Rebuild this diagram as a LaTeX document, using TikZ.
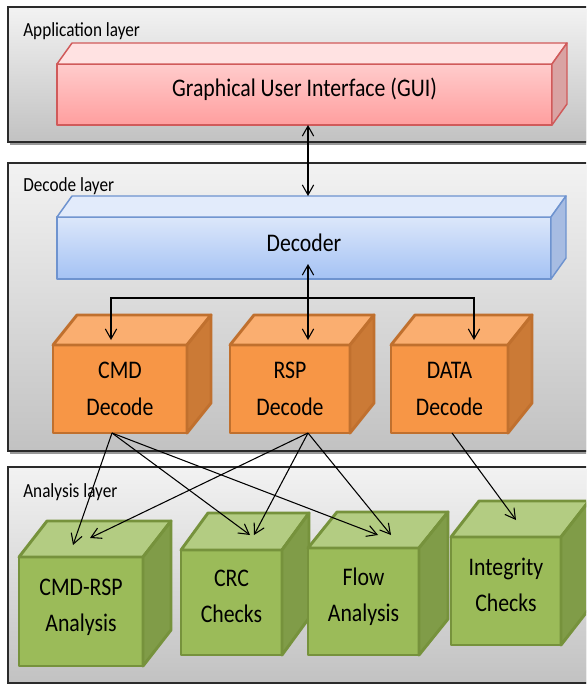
\documentclass[tikz,border=0pt]{standalone}
\usepackage{fontspec}
\setmainfont{Carlito}[FakeStretch=0.86]
\usetikzlibrary{arrows.meta}

\definecolor{layerline}{HTML}{2B2B2B}
\definecolor{guiline}{HTML}{D05A5A}
\definecolor{guitop}{HTML}{FFE2E2}
\definecolor{guiside}{HTML}{D9A3A3}
\definecolor{decline}{HTML}{6E93CF}
\definecolor{decfronttop}{HTML}{DCE7FA}
\definecolor{decfrontbot}{HTML}{A4C2F4}
\definecolor{dectop}{HTML}{E2EBFB}
\definecolor{decside}{HTML}{A7BCE2}
\definecolor{orline}{HTML}{C0702E}
\definecolor{orfront}{HTML}{F79646}
\definecolor{ortop}{HTML}{FAAE70}
\definecolor{orside}{HTML}{CB7A36}
\definecolor{grline}{HTML}{76923C}
\definecolor{grfront}{HTML}{9BBB59}
\definecolor{grtop}{HTML}{B3CC82}
\definecolor{grside}{HTML}{809C48}

\newcommand\pxu{0.75pt}
\newcommand\cubefaces[5]{%
  \path[#4] (#1.north west) -- ([shift={(#2,#3)}]#1.north west) -- ([shift={(#2,#3)}]#1.north east) -- (#1.north east) -- cycle;
  \path[#5] (#1.north east) -- ([shift={(#2,#3)}]#1.north east) -- ([shift={(#2,#3)}]#1.south east) -- (#1.south east) -- cycle;
}

\begin{document}
\begin{tikzpicture}
	[x=0.75pt, y=-0.75pt,
	layer/.style = {draw=layerline, line width=1.2pt, top color=black!5, bottom color=black!24},
	layershadow/.style = {fill=black!40},
	layername/.style = {anchor=west, inner sep=0pt, font=\fontsize{15}{17}\selectfont},
	box/.style = {outer sep=0pt, inner sep=0pt, align=center, line join=round, font=\fontsize{19}{28}\selectfont},
	gui/.style = {box, draw=guiline, line width=1.1pt, top color=red!20, bottom color=red!38, text depth=10.5pt},
	guitopface/.style = {fill=guitop, draw=guiline, line width=1.1pt, line join=round},
	guisideface/.style = {fill=guiside, draw=guiline, line width=1.1pt, line join=round},
	dec/.style = {box, draw=decline, line width=1.1pt, top color=decfronttop, bottom color=decfrontbot, text depth=7.5pt},
	dectopface/.style = {fill=dectop, draw=decline, line width=1.1pt, line join=round},
	decsideface/.style = {fill=decside, draw=decline, line width=1.1pt, line join=round},
	orange/.style = {box, draw=orline, fill=orfront, line width=2.2pt},
	ortopface/.style = {fill=ortop, draw=orline, line width=2.2pt, line join=round},
	orsideface/.style = {fill=orside, draw=orline, line width=2.2pt, line join=round},
	green/.style = {box, draw=grline, fill=grfront, line width=2.2pt, font=\fontsize{19}{27}\selectfont, text depth=10pt},
	grtopface/.style = {fill=grtop, draw=grline, line width=2.2pt, line join=round},
	grsideface/.style = {fill=grside, draw=grline, line width=2.2pt, line join=round},
	link/.style = {line width=0.8pt, >={Straight Barb[length=7.5pt,width=8.5pt]}}]
	\useasboundingbox (0,0) rectangle (586,684);
	\clip (0,0) rectangle (586,684);

	\fill[layershadow] (10,9) rectangle (602,145);
	\fill[layershadow] (10,165) rectangle (602,454);
	\fill[layershadow] (10,469) rectangle (602,686);
	\draw[layer] (8,7) rectangle (600,142);
	\draw[layer] (8,163) rectangle (600,451);
	\draw[layer] (8,467) rectangle (600,683);
	\node[layername] (applabel) at (23,31) {Application layer};
	\node[layername] (declabel) at (23,186) {Decode layer};
	\node[layername] (analabel) at (23,492) {Analysis layer};

	\node[gui, minimum width={495*\pxu}, minimum height={61*\pxu}] (gui) at (304.5,94.5) {Graphical User Interface (GUI)};
	\cubefaces{gui}{15}{-21}{guitopface}{guisideface}
	\node[dec, minimum width={494*\pxu}, minimum height={62*\pxu}] (dec) at (304,248) {Decoder};
	\cubefaces{dec}{15}{-21}{dectopface}{decsideface}

	\node[orange, minimum width={134*\pxu}, minimum height={88*\pxu}] (cmd) at (120,389) {CMD\\Decode};
	\cubefaces{cmd}{24}{-30}{ortopface}{orsideface}
	\node[orange, minimum width={120*\pxu}, minimum height={88*\pxu}] (rsp) at (290,389) {RSP\\Decode};
	\cubefaces{rsp}{24}{-30}{ortopface}{orsideface}
	\node[orange, minimum width={117*\pxu}, minimum height={88*\pxu}] (data) at (449.5,389) {DATA\\Decode};
	\cubefaces{data}{24}{-30}{ortopface}{orsideface}

	\node[green, minimum width={124*\pxu}, minimum height={109*\pxu}] (cmdrsp) at (81,611.5) {CMD-RSP\\Analysis};
	\cubefaces{cmdrsp}{28}{-36}{grtopface}{grsideface}
	\node[green, minimum width={101*\pxu}, minimum height={105*\pxu}] (crc) at (231.5,602.5) {CRC\\Checks};
	\cubefaces{crc}{27}{-37}{grtopface}{grsideface}
	\node[green, minimum width={111*\pxu}, minimum height={107*\pxu}] (flow) at (363.5,601.5) {Flow\\Analysis};
	\cubefaces{flow}{29}{-36}{grtopface}{grsideface}
	\node[green, minimum width={110*\pxu}, minimum height={108*\pxu}] (integ) at (506,591) {Integrity\\Checks};
	\cubefaces{integ}{28}{-36}{grtopface}{grsideface}

	\coordinate (fork) at (308,298);
	\draw[link, <->] ([shift={(3.5,0)}]gui.south) -- ([shift={(4,-21)}]dec.north);
	\draw[link, <->] ([shift={(4,-15)}]dec.south) -- ([shift={(18,-5)}]rsp.north);
	\draw[link, ->] (fork) -| ([shift={(-9,-5)}]cmd.north);
	\draw[link, ->] (fork) -| ([shift={(24.5,-5)}]data.north);

	\draw[link, ->] ([shift={(-8,0)}]cmd.south) -- ([shift={(-8,-12)}]cmdrsp.north);
	\draw[link, ->] ([shift={(-8,0)}]cmd.south) -- ([shift={(18.5,-15)}]crc.north);
	\draw[link, ->] ([shift={(-8,0)}]cmd.south) -- ([shift={(14.5,-13)}]flow.north);
	\draw[link, ->] ([shift={(18,0)}]rsp.south) -- ([shift={(9,-19)}]cmdrsp.north);
	\draw[link, ->] ([shift={(18,0)}]rsp.south) -- ([shift={(22.5,-15)}]crc.north);
	\draw[link, ->] ([shift={(18,0)}]rsp.south) -- ([shift={(27.5,-13)}]flow.north);
	\draw[link, ->] ([shift={(2.5,0)}]data.south) -- ([shift={(10,-17)}]integ.north);
\end{tikzpicture}
\end{document}
